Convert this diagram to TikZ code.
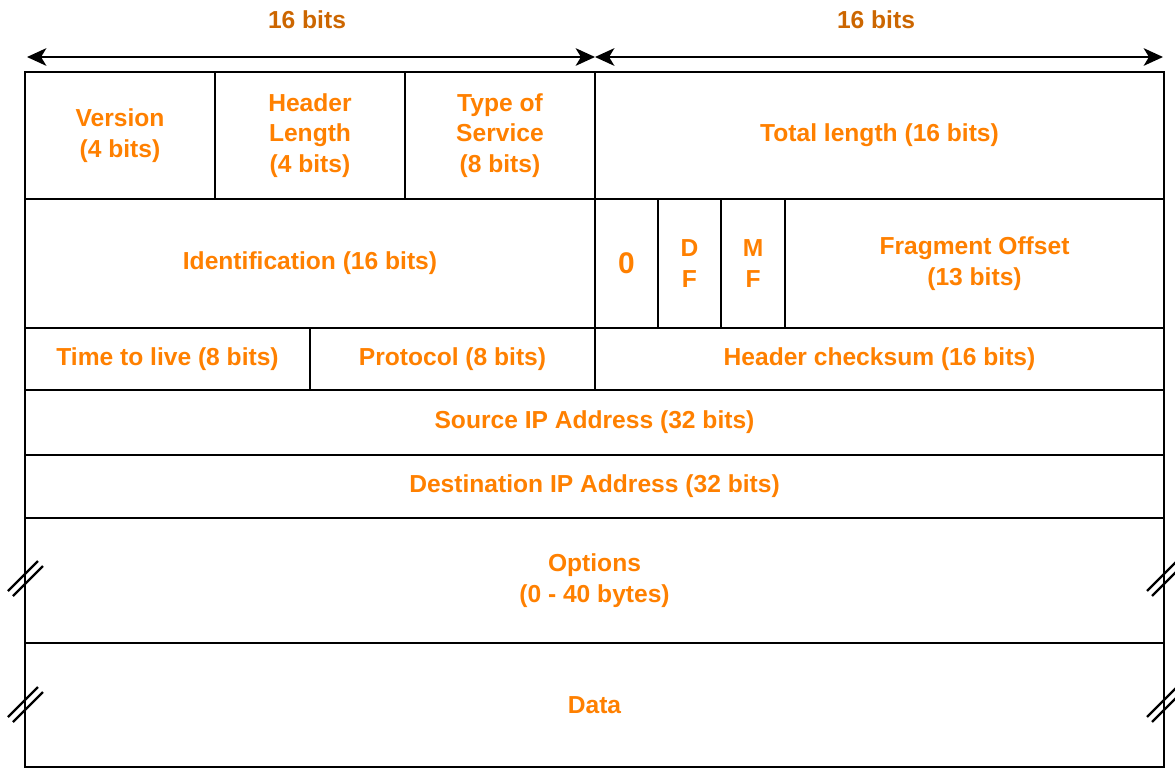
\documentclass[tikz,border=0pt]{standalone}
\usepackage{fontspec}
\setmainfont{Liberation Sans}
\usetikzlibrary{arrows.meta}
\usetikzlibrary{positioning}
\definecolor{fieldorange}{HTML}{FF8000}
\definecolor{widthbrown}{HTML}{CC6600}

\begin{document}
\begin{tikzpicture}[x=0.02cm,y=-0.02cm,
  field/.style 2 args={rectangle,draw=black,line width=1.2pt,inner sep=0pt,outer sep=0pt,minimum width=#1*0.02cm,minimum height=#2*0.02cm,align=center,text=fieldorange,font=\fontsize{14}{17.3}\selectfont\bfseries},
  widtharrow/.style={{Stealth[length=11pt,width=10pt,inset=3pt]}-{Stealth[length=11pt,width=10pt,inset=3pt]},line width=1.3pt},
  brk/.style={line width=1.3pt}]
\useasboundingbox (0,0) rectangle (1175,768);
% bit widths over the header
\node at (307,20)[text=widthbrown,font=\fontsize{14}{17}\selectfont\bfseries](lw){16 bits};
\node at (876,20)[text=widthbrown,font=\fontsize{14}{17}\selectfont\bfseries](rw){16 bits};
\coordinate (wl) at (27,57);
\coordinate (wm) at (595,57);
\coordinate (wr) at (1163,57);
\draw[widtharrow] (wl) -- (wm);
\draw[widtharrow] (wm) -- (wr);
% row 1
\node at (120,135.5)[field={190}{127}](ver){Version\\(4 bits)};
\node at (310,135.5)[field={190}{127}](hl){Header\\Length\\(4 bits)};
\node at (500,135.5)[field={190}{127}](tos){Type of\\Service\\(8 bits)};
\node at (879.5,135.5)[field={569}{127}](tl){Total length (16 bits)};
% row 2
\node at (310,263.5)[field={570}{129}](id){Identification (16 bits)};
\node at (626.5,263.5)[field={63}{129},font=\fontsize{17}{20}\selectfont\bfseries](zero){0};
\node at (689.5,263.5)[field={63}{129}](df){D\\F};
\node at (753,263.5)[field={64}{129}](mf){M\\F};
\node at (974.5,263.5)[field={379}{129}](fo){Fragment Offset\\(13 bits)};
% row 3
\node at (167.5,359)[field={285}{62}](ttl){Time to live (8 bits)};
\node at (452.5,359)[field={285}{62}](pr){Protocol (8 bits)};
\node at (879.5,359)[field={569}{62}](cs){Header checksum (16 bits)};
% rows 4 to 7
\node at (594.5,422.5)[field={1139}{65}](src){Source IP Address (32 bits)};
\node at (594.5,486.5)[field={1139}{63}](dst){Destination IP Address (32 bits)};
\node at (594.5,580.5)[field={1139}{125}](opt){Options\\(0 - 40 bytes)};
\node at (594.5,705)[field={1139}{124}](dat){Data};
% break marks on both sides
\foreach \bx/\by in {25/577,25/703,1164/577,1164/703}{
  \draw[brk] (\bx-17,\by+14) -- (\bx+13,\by-16);
  \draw[brk] (\bx-12,\by+19) -- (\bx+18,\by-11);
}
\end{tikzpicture}
\end{document}
